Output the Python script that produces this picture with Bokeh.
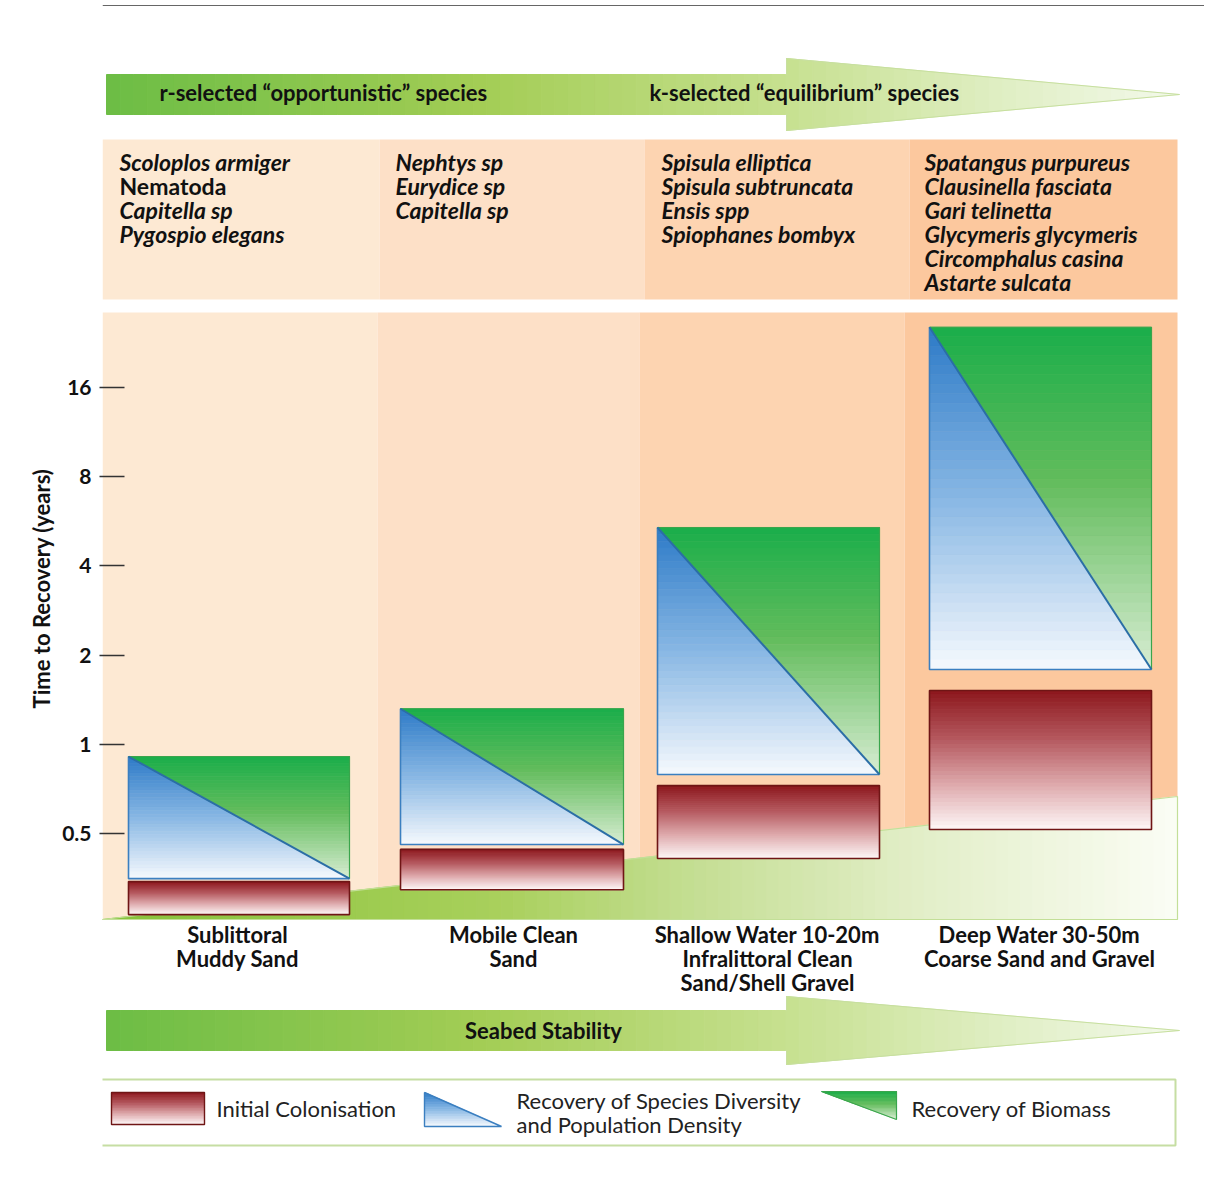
import numpy as np
from bokeh.plotting import figure
from bokeh.models import (Range1d, LogScale, LogAxis, FixedTicker,
                          CustomJSTickFormatter, ColumnDataSource)
from bokeh.embed import file_html
from bokeh.resources import INLINE
from bokeh.core.properties import value

# ---------------- data ----------------
categories = ["Sublittoral\nMuddy Sand",
              "Mobile Clean\nSand",
              "Shallow Water 10-20m\nInfralittoral Clean\nSand/Shell Gravel",
              "Deep Water 30-50m\nCoarse Sand and Gravel"]
colonisation_start = [0.267, 0.324, 0.413, 0.517]   # years
colonisation_end = [0.345, 0.443, 0.727, 1.52]
recovery_start = [0.353, 0.46, 0.792, 1.79]
recovery_end = [0.911, 1.32, 5.39, 25.5]
y_ticks = [0.5, 1, 2, 4, 8, 16]
species = [
    ["Scoloplos armiger", "Nematoda", "Capitella sp", "Pygospio elegans"],
    ["Nephtys sp", "Eurydice sp", "Capitella sp"],
    ["Spisula elliptica", "Spisula subtruncata", "Ensis spp", "Spiophanes bombyx"],
    ["Spatangus purpureus", "Clausinella fasciata", "Gari telinetta",
     "Glycymeris glycymeris", "Circomphalus casina", "Astarte sulcata"],
]
species_italic = [[True, False, True, True], [True] * 3, [True] * 4, [True] * 6]
legend_labels = ["Initial Colonisation",
                 "Recovery of Species Diversity\nand Population Density",
                 "Recovery of Biomass"]
top_arrow_labels = ["r-selected \u201copportunistic\u201d species",
                    "k-selected \u201cequilibrium\u201d species"]
bottom_arrow_label = "Seabed Stability"
y_title = "Time to Recovery (years)"

# ---------------- layout (reference pixel coordinates) ----------------
ORIGIN = 1
W, H, LEFT = 1204, 1176, 102
X0, X1 = ORIGIN + LEFT, ORIGIN + W
Y_TOP, Y_BOT = ORIGIN, ORIGIN + H
Y_ONE, PX_PER_DOUBLING = 745.0, 89.3


def yval(ypx):
    return 2.0 ** ((Y_ONE - ypx) / PX_PER_DOUBLING)


bar_left = [129, 401, 658, 930]
bar_right = [350, 624, 880, 1152]
col_centers = [238, 514, 768, 1040]
species_x = [120, 396, 662, 925]
band_chart = [(103, 378), (378, 640), (640, 905), (905, 1178)]
band_species = [(103, 380), (380, 645), (645, 910), (910, 1178)]
band_colors = ["#fde9d3", "#fde0c7", "#fdd4b1", "#fcc89e"]
FONT = "Lato"


def h2r(h):
    h = h.lstrip("#")
    return tuple(int(h[i:i + 2], 16) for i in (0, 2, 4))


def ramp(stops, t):
    for (p0, c0), (p1, c1) in zip(stops[:-1], stops[1:]):
        if t <= p1:
            u = 0 if p1 == p0 else (t - p0) / (p1 - p0)
            a, b = h2r(c0), h2r(c1)
            return "#%02x%02x%02x" % tuple(int(round(x + (y - x) * u)) for x, y in zip(a, b))
    return stops[-1][1]


RED = [(0, "#8c161c"), (0.35, "#b4585e"), (0.7, "#e0aeb1"), (1, "#fdf6f6")]
BLUE = [(0, "#2c7ac7"), (0.5, "#88b7e4"), (1, "#f5f9fd")]
GREEN = [(0, "#1aae4a"), (0.45, "#62bc5c"), (1, "#d8edd3")]
ARROW = [(0, "#6cbd45"), (0.35, "#a3cd55"), (0.63, "#c6e08f"), (0.83, "#dfeec2"), (1, "#f3f9ea")]
WEDGE = [(0, "#86c23a"), (0.37, "#a9d05c"), (0.55, "#c4de93"), (0.74, "#e0edc4"), (1, "#fbfdf5")]

p = figure(width=W, height=H, output_backend="svg", toolbar_location=None,
           x_range=Range1d(X0, X1), y_range=Range1d(Y_BOT, Y_TOP),
           x_axis_location=None, y_axis_location=None,
           min_border_left=LEFT, min_border_right=0, min_border_top=0, min_border_bottom=0,
           outline_line_color=None, background_fill_color="white")
p.xgrid.visible = False
p.ygrid.visible = False
p.extra_y_ranges = {"log": Range1d(yval(Y_BOT), yval(Y_TOP))}
p.extra_y_scales = {"log": LogScale()}

# frame line of the page (top edge)
p.line([X0, X1], [6, 6], line_color="#666666", line_width=1)

# ---- background bands ----
p.quad(left=[b[0] for b in band_species], right=[b[1] for b in band_species],
       top=[140] * 4, bottom=[300] * 4, fill_color=band_colors, line_color=None)
p.quad(left=[b[0] for b in band_chart], right=[b[1] for b in band_chart],
       top=[313] * 4, bottom=[920] * 4, fill_color=band_colors, line_color=None)

# ---- seabed wedge (horizontal gradient) ----
wx = np.linspace(103, 1178, 90)
wxs, wys, wcs = [], [], []
def wtop(x):
    return 920 - (x - 103) * 123.0 / 1075.0
for a, b in zip(wx[:-1], wx[1:]):
    wxs.append([a, b, b, a]); wys.append([wtop(a), wtop(b), 920, 920])
    wcs.append(ramp(WEDGE, ((a + b) / 2 - 103) / 1075.0))
p.patches(wxs, wys, fill_color=wcs, line_color=wcs, line_width=1)
p.line([103, 1178, 1178, 103], [920, wtop(1178), 920, 920], line_color="#c3df98", line_width=1.2)


# ---- arrows ----
def arrow(x_start, x_head, x_tip, yc, sh, hh, n=80):
    def half(x):
        if x <= x_head:
            return sh
        return hh * (x_tip - x) / (x_tip - x_head)
    xs_edges = sorted(set(list(np.linspace(x_start, x_tip, n)) + [x_head, x_head + 0.01]))
    XS, YS, CS = [], [], []
    for a, b in zip(xs_edges[:-1], xs_edges[1:]):
        ha, hb = half(a), half(b)
        if a < x_head < b:
            continue
        XS.append([a, b, b, a]); YS.append([yc - ha, yc - hb, yc + hb, yc + ha])
        CS.append(ramp(ARROW, ((a + b) / 2 - x_start) / (x_tip - x_start)))
    p.patches(XS, YS, fill_color=CS, line_color=CS, line_width=1)
    p.line([x_head, x_head, x_tip, x_head, x_head], [yc - sh, yc - hh, yc, yc + hh, yc + sh],
           line_color="#c7df9f", line_width=1)


arrow(107, 787, 1180, 95, 20, 36)
arrow(107, 787, 1180, 1031, 20, 34)

# ---- bars: initial colonisation (vertical gradient, log scale) ----
N = 36
f = np.linspace(0, 1, N + 1)
L, R, T, B, C = [], [], [], [], []
for i in range(len(categories)):
    lo, hi = colonisation_start[i], colonisation_end[i]
    ys = hi * (lo / hi) ** f
    for k in range(N):
        L.append(bar_left[i]); R.append(bar_right[i]); T.append(ys[k]); B.append(ys[k + 1])
        C.append(ramp(RED, (f[k] + f[k + 1]) / 2))
p.quad(left=L, right=R, top=T, bottom=B, fill_color=C, line_color=C, line_width=1, y_range_name="log")
p.quad(left=bar_left, right=bar_right, top=colonisation_end, bottom=colonisation_start,
       fill_color=None, line_color="#6f1515", line_width=1.6, y_range_name="log")

# ---- recovery triangles ----
bxs, bys, bcs, gxs, gys, gcs = [], [], [], [], [], []
for i in range(len(categories)):
    lo, hi = recovery_start[i], recovery_end[i]
    x0, x1 = bar_left[i], bar_right[i]
    ys = hi * (lo / hi) ** f
    for k in range(N):
        fa, fb = f[k], f[k + 1]
        xa, xb = x0 + (x1 - x0) * fa, x0 + (x1 - x0) * fb
        bxs.append([x0, xa, xb, x0]); bys.append([ys[k], ys[k], ys[k + 1], ys[k + 1]])
        bcs.append(ramp(BLUE, (fa + fb) / 2))
        gxs.append([xa, x1, x1, xb]); gys.append([ys[k], ys[k], ys[k + 1], ys[k + 1]])
        gcs.append(ramp(GREEN, (fa + fb) / 2))
p.patches(bxs, bys, fill_color=bcs, line_color=bcs, line_width=0.8, y_range_name="log")
p.patches(gxs, gys, fill_color=gcs, line_color=gcs, line_width=0.8, y_range_name="log")
p.multi_line([[l, r, r] for l, r in zip(bar_left, bar_right)],
             [[h, h, lo] for h, lo in zip(recovery_end, recovery_start)],
             line_color="#3aa54c", line_width=1.2, y_range_name="log")
p.multi_line([[l, l, r] for l, r in zip(bar_left, bar_right)],
             [[h, lo, lo] for h, lo in zip(recovery_end, recovery_start)],
             line_color="#3b7fc0", line_width=1.6, y_range_name="log")
p.multi_line([[l, r] for l, r in zip(bar_left, bar_right)],
             [[h, lo] for h, lo in zip(recovery_end, recovery_start)],
             line_color="#2b6ea6", line_width=2, y_range_name="log")

# ---- texts ----
def txt(x, y, s, size="22px", style="bold", align="left", color="#111111"):
    p.text(x=x, y=y, text=s, text_font=value(FONT), text_font_size=size,
           text_font_style=style, text_align=align, text_baseline="middle", text_color=color)

txt([160, 650], [93, 93], top_arrow_labels)
txt([544], [1031], [bottom_arrow_label], align="center")

sx, sy, st, ss = [], [], [], []
for i, names in enumerate(species):
    for j, nm in enumerate(names):
        sx.append(species_x[i]); sy.append(162 + 24 * j); st.append(nm)
        ss.append("bold italic" if species_italic[i][j] else "bold")
p.text(x="x", y="y", text="t", text_font_style="s", source=ColumnDataSource(dict(x=sx, y=sy, t=st, s=ss)),
       text_font=value(FONT), text_font_size="23px", text_baseline="middle", text_color="#111111")

cx, cy, ct = [], [], []
for i, c in enumerate(categories):
    for j, line in enumerate(c.split("\n")):
        cx.append(col_centers[i]); cy.append(935 + 24 * j); ct.append(line)
txt(cx, cy, ct, align="center")

# ---- legend ----
p.quad(left=[100], right=[1176], top=[1080], bottom=[1146], fill_color="white",
       line_color="#c6dea3", line_width=2)
lf = np.linspace(0, 1, 21)
ly0, ly1 = 1093, 1125
p.quad(left=[112] * 20, right=[205] * 20, top=list(ly0 + (ly1 - ly0) * lf[:-1]),
       bottom=list(ly0 + (ly1 - ly0) * lf[1:]),
       fill_color=[ramp(RED, (a + b) / 2) for a, b in zip(lf[:-1], lf[1:])],
       line_color=[ramp(RED, (a + b) / 2) for a, b in zip(lf[:-1], lf[1:])], line_width=1)
p.quad(left=[112], right=[205], top=[ly0], bottom=[ly1], fill_color=None, line_color="#6f1515", line_width=1.4)

# blue legend triangle
tb = (425, 502, 1093, 1127)
lx, ly, lc = [], [], []
for a, b in zip(lf[:-1], lf[1:]):
    ya, yb = tb[2] + (tb[3] - tb[2]) * a, tb[2] + (tb[3] - tb[2]) * b
    xa, xb = tb[0] + (tb[1] - tb[0]) * a, tb[0] + (tb[1] - tb[0]) * b
    lx.append([tb[0], xa, xb, tb[0]]); ly.append([ya, ya, yb, yb]); lc.append(ramp(BLUE, (a + b) / 2))
p.patches(lx, ly, fill_color=lc, line_color=lc, line_width=0.8)
p.line([tb[0], tb[0], tb[1], tb[0]], [tb[2], tb[3], tb[3], tb[2]], line_color="#3b7fc0", line_width=1.4)

# green legend triangle
tg = (822, 897, 1092, 1120)
gx2, gy2, gc2 = [], [], []
for a, b in zip(lf[:-1], lf[1:]):
    ya, yb = tg[2] + (tg[3] - tg[2]) * a, tg[2] + (tg[3] - tg[2]) * b
    xa, xb = tg[0] + (tg[1] - tg[0]) * a, tg[0] + (tg[1] - tg[0]) * b
    gx2.append([xa, tg[1], tg[1], xb]); gy2.append([ya, ya, yb, yb]); gc2.append(ramp(GREEN, (a + b) / 2))
p.patches(gx2, gy2, fill_color=gc2, line_color=gc2, line_width=0.8)
p.line([tg[0], tg[1], tg[1], tg[0]], [tg[2], tg[2], tg[3], tg[2]], line_color="#3aa54c", line_width=1.2)

leg_lines = legend_labels[1].split("\n")
txt([217, 517, 517, 912], [1109, 1101, 1125, 1109],
    [legend_labels[0], leg_lines[0], leg_lines[1], legend_labels[2]],
    style="normal", color="#222222")

# ---- y axis (log) ----
ax = LogAxis(y_range_name="log", ticker=FixedTicker(ticks=y_ticks),
             formatter=CustomJSTickFormatter(code="return tick.toString()"),
             axis_label=y_title)
ax.axis_line_color = None
ax.major_tick_in = 22
ax.major_tick_out = 3
ax.major_tick_line_width = 1.5
ax.major_tick_line_color = "#333333"
ax.minor_tick_line_color = None
ax.major_label_standoff = 8
ax.major_label_text_font = FONT
ax.major_label_text_font_size = "21px"
ax.major_label_text_font_style = "bold"
ax.major_label_text_color = "#111111"
ax.axis_label_text_font = FONT
ax.axis_label_text_font_size = "22px"
ax.axis_label_text_font_style = "bold"
ax.axis_label_text_color = "#111111"
ax.axis_label_standoff = 4
p.add_layout(ax, "left")

open("out.html", "w").write(file_html(p, INLINE))
